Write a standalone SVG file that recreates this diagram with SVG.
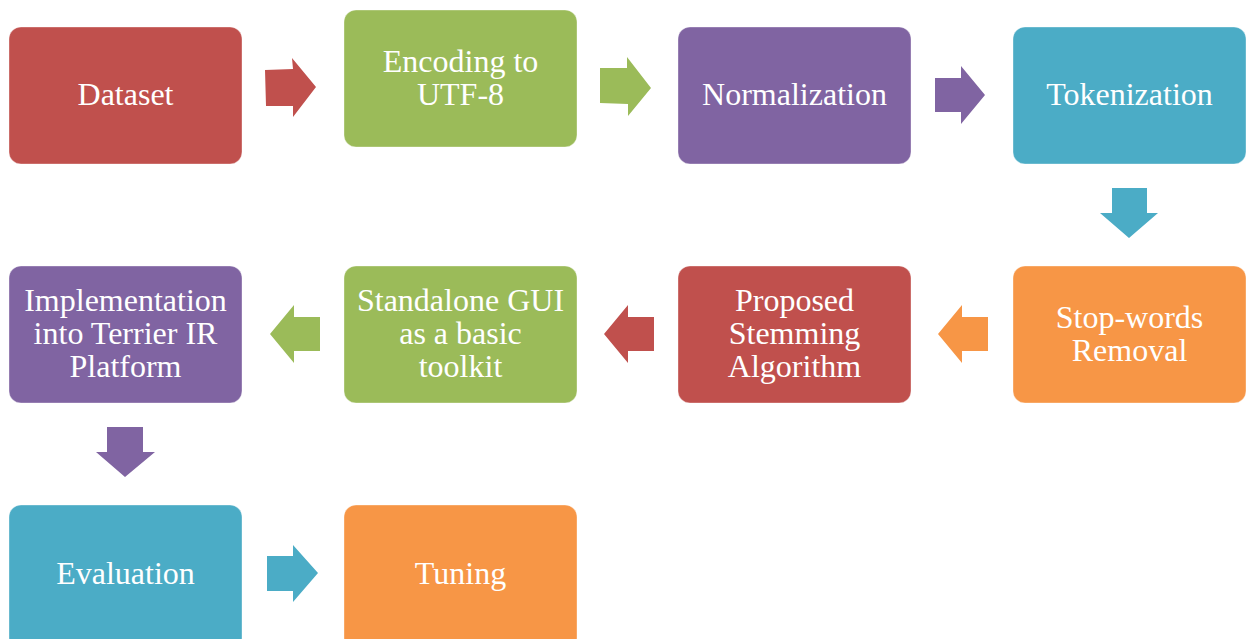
<svg xmlns="http://www.w3.org/2000/svg" width="1249" height="639" viewBox="0 0 1249 639">
  <style>
    .box { stroke: #ffffff; stroke-opacity: 0.35; stroke-width: 1; }
    .lbl { font-family: "Liberation Serif", "Times New Roman", serif; font-size: 32px; fill: #ffffff; text-anchor: middle; }
    .red { fill: #C0504D; }
    .green { fill: #9BBB59; }
    .purple { fill: #8064A2; }
    .blue { fill: #4BACC6; }
    .orange { fill: #F79646; }
  </style>
  <rect width="1249" height="639" fill="#ffffff"/>

  <!-- connectors: block arrows between steps -->
  <g id="connectors">
    <polygon class="red" points="265,70 293,69 292,58 316,87 293,117 293,106 266,106"/>
    <polygon class="green" points="600,68 627,68 627,57 651,88 628,116 628,104 600,103"/>
    <polygon class="purple" points="935,78 961,78 961,66 985,95 961,124 961,112 935,112"/>
    <polygon class="blue" points="1112,188 1147,188 1147,213 1158,213 1129,238 1100,213 1112,213"/>
    <polygon class="orange" points="988,317 962,317 962,305 938,334 962,363 962,351 988,351"/>
    <polygon class="red" points="654,317 628,317 628,305 604,334 628,363 628,351 654,351"/>
    <polygon class="green" points="320,317 294,317 294,305 270,334 294,363 294,351 320,351"/>
    <polygon class="purple" points="107,427 143,427 143,452 155,452 125,477 96,452 107,452"/>
    <polygon class="blue" points="267,556 293,556 293,545 318,573 293,602 293,591 267,591"/>
  </g>

  <g id="dataset">
    <rect class="box red" x="9" y="27" width="233" height="137" rx="12"/>
    <text class="lbl" x="125.5" y="105">Dataset</text>
  </g>
  <g id="encoding">
    <rect class="box green" x="344" y="10" width="233" height="137" rx="12"/>
    <text class="lbl" x="460.5" y="72">Encoding to</text>
    <text class="lbl" x="460.5" y="105">UTF-8</text>
  </g>
  <g id="normalization">
    <rect class="box purple" x="678" y="27" width="233" height="137" rx="12"/>
    <text class="lbl" x="794.5" y="105">Normalization</text>
  </g>
  <g id="tokenization">
    <rect class="box blue" x="1013" y="27" width="233" height="137" rx="12"/>
    <text class="lbl" x="1129.5" y="105">Tokenization</text>
  </g>
  <g id="stopwords">
    <rect class="box orange" x="1013" y="266" width="233" height="137" rx="12"/>
    <text class="lbl" x="1129.5" y="328">Stop-words</text>
    <text class="lbl" x="1129.5" y="361">Removal</text>
  </g>
  <g id="stemming">
    <rect class="box red" x="678" y="266" width="233" height="137" rx="12"/>
    <text class="lbl" x="794.5" y="311">Proposed</text>
    <text class="lbl" x="794.5" y="344">Stemming</text>
    <text class="lbl" x="794.5" y="377">Algorithm</text>
  </g>
  <g id="gui">
    <rect class="box green" x="344" y="266" width="233" height="137" rx="12"/>
    <text class="lbl" x="460.5" y="311">Standalone GUI</text>
    <text class="lbl" x="460.5" y="344">as a basic</text>
    <text class="lbl" x="460.5" y="377">toolkit</text>
  </g>
  <g id="terrier">
    <rect class="box purple" x="9" y="266" width="233" height="137" rx="12"/>
    <text class="lbl" x="125.5" y="311">Implementation</text>
    <text class="lbl" x="125.5" y="344">into Terrier IR</text>
    <text class="lbl" x="125.5" y="377">Platform</text>
  </g>
  <g id="evaluation">
    <rect class="box blue" x="9" y="505" width="233" height="145" rx="12"/>
    <text class="lbl" x="125.5" y="584">Evaluation</text>
  </g>
  <g id="tuning">
    <rect class="box orange" x="344" y="505" width="233" height="145" rx="12"/>
    <text class="lbl" x="460.5" y="584">Tuning</text>
  </g>
</svg>
